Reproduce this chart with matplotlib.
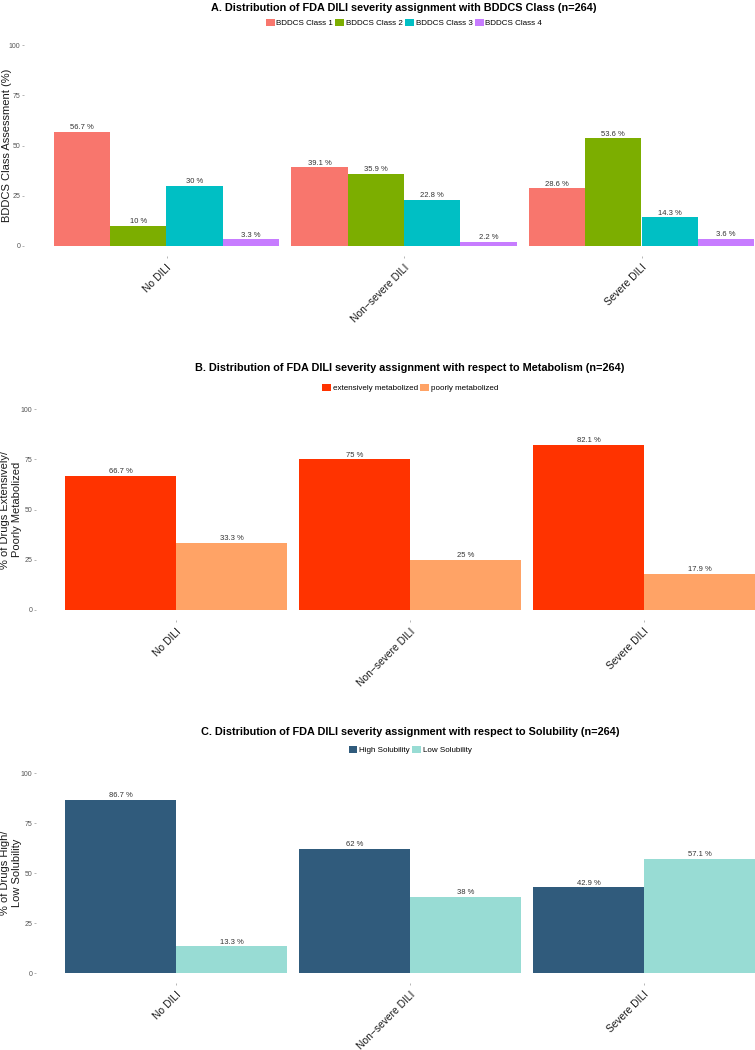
import matplotlib.pyplot as plt
from matplotlib.patches import Patch

plt.rcParams['font.family'] = ['Liberation Sans', 'DejaVu Sans']

groups = ['No DILI', 'Non\u2212severe DILI', 'Severe DILI']

# panel A
bddcs_names = ['BDDCS Class 1', 'BDDCS Class 2', 'BDDCS Class 3', 'BDDCS Class 4']
bddcs_vals = [
    [56.7, 39.1, 28.6],
    [10, 35.9, 53.6],
    [30, 22.8, 14.3],
    [3.3, 2.2, 3.6],
]
bddcs_colors = ['#F8766D', '#7CAE00', '#00BFC4', '#C77CFF']

# panel B
metab_names = ['extensively metabolized', 'poorly metabolized']
metab_vals = [
    [66.7, 75, 82.1],
    [33.3, 25, 17.9],
]
metab_colors = ['#FF3300', '#FFA366']

# panel C
sol_names = ['High Solubility', 'Low Solubility']
sol_vals = [
    [86.7, 62, 42.9],
    [13.3, 38, 57.1],
]
sol_colors = ['#305B7C', '#98DCD4']

W, H = 755, 1050
fig = plt.figure(figsize=(W / 100, H / 100), dpi=100)


def panel(left_px, top_px, bottom_px, right_px, title, names, vals, colors,
          ylabel, ylab_x, title_y, leg_y):
    ax = fig.add_axes([left_px / W, 1 - bottom_px / H, (right_px - left_px) / W, (bottom_px - top_px) / H])
    n = len(names)
    bw = 0.95 / n
    x = list(range(1, len(groups) + 1))
    for i, (nm, v, c) in enumerate(zip(names, vals, colors)):
        pos = [xx - 0.475 + bw * (i + 0.5) for xx in x]
        ax.bar(pos, v, width=bw, color=c, label=nm)
        for p, val in zip(pos, v):
            ax.annotate(f'{val:g} %', (p, val), xytext=(0, 0.5), textcoords='offset points',
                        ha='center', va='bottom', fontsize=5.5, color='#333333')
    ax.set_xlim(0.4, 3.6)
    ax.set_ylim(-5, 105)
    ax.set_yticks([0, 25, 50, 75, 100])
    ax.set_xticks(x)
    ax.set_xticklabels(groups, rotation=45, ha='right', va='top', rotation_mode='anchor',
                       fontsize=7.4, color='#1a1a1a')
    ax.tick_params(axis='y', labelsize=5, labelcolor='#555555', length=1.5, width=0.5,
                   color='#999999', pad=1)
    ax.tick_params(axis='x', length=1.5, width=0.5, color='#999999', pad=3)
    for s in ax.spines.values():
        s.set_visible(False)
    fig.text(ylab_x / W, 1 - (top_px + bottom_px) / 2 / H, ylabel, rotation=90,
             ha='center', va='center', fontsize=8, color='#1a1a1a', multialignment='center',
             linespacing=1.15)
    cx = (left_px + right_px) / 2 / W
    fig.text(cx, 1 - title_y / H, title, ha='center', va='center', fontsize=7.8, fontweight='bold')
    handles = [Patch(facecolor=c, label=nm) for nm, c in zip(names, colors)]
    fig.legend(handles=handles, loc='center', bbox_to_anchor=(cx, 1 - leg_y / H), ncol=n,
               frameon=False, fontsize=5.8, handlelength=1.1, handleheight=1.1,
               handletextpad=0.2, columnspacing=0.3, borderaxespad=0)
    return ax


panel(24, 35, 256, 784,
      'A. Distribution of FDA DILI severity assignment with BDDCS Class (n=264)',
      bddcs_names, bddcs_vals, bddcs_colors, 'BDDCS Class Assessment (%)', 7, 8, 23)
panel(35.6, 399, 620, 784.4,
      'B. Distribution of FDA DILI severity assignment with respect to Metabolism (n=264)',
      metab_names, metab_vals, metab_colors, '% of Drugs Extensively/\nPoorly Metabolized', 11, 368, 388)
panel(35.6, 763, 983, 784.4,
      'C. Distribution of FDA DILI severity assignment with respect to Solubility (n=264)',
      sol_names, sol_vals, sol_colors, '% of Drugs High/\nLow Solubility', 11, 732, 750)

fig.savefig('out.png', dpi=100)
